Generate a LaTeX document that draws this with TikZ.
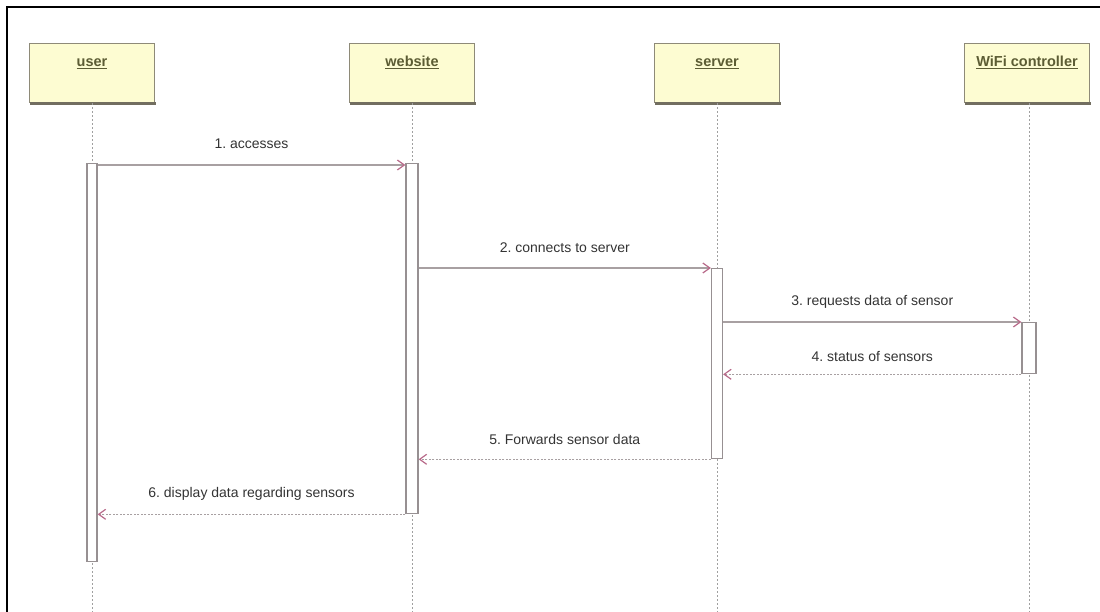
\documentclass[tikz,border=0pt]{standalone}
\usepackage{fontspec}
\setmainfont{Liberation Sans}
\usetikzlibrary{arrows.meta}
\definecolor{boxfill}{HTML}{FDFCD2}
\definecolor{boxline}{HTML}{8E8A78}
\definecolor{hdrtext}{HTML}{5C5C34}
\definecolor{msgline}{HTML}{A8A0A2}
\definecolor{tipcol}{HTML}{B86A8A}
\definecolor{txt}{HTML}{333333}
\definecolor{life}{HTML}{A0A0A0}
\tikzset{
  actor/.style={draw=boxline, line width=1.4pt, fill=boxfill, minimum width=125pt, minimum height=59pt,
    inner sep=0pt, anchor=north, text=hdrtext, font=\bfseries\fontsize{14.5}{16}\selectfont,
    text height=10pt, text depth=24pt},
  shadowline/.style={draw=boxline!80!black, line width=2.6pt},
  bar/.style={draw=msgline!90!black, line width=1.3pt, fill=white, inner sep=0pt, anchor=north},
  lifeline/.style={draw=life, line width=1pt, dash pattern=on 2pt off 2pt},
  call/.style={draw=msgline, line width=1.8pt, -{Straight Barb[length=7pt,width=10pt,line width=1.2pt,color=tipcol]}},
  reply/.style={draw=msgline, line width=1.5pt, dash pattern=on 2pt off 1.5pt, -{Straight Barb[length=7pt,width=10pt,line width=1.2pt,color=tipcol]}},
  lbl/.style={text=txt, font=\fontsize{14}{16}\selectfont, inner sep=0pt}
}
\frenchspacing
\begin{document}
\begin{tikzpicture}[x=1pt,y=-1pt]
\useasboundingbox (0,0) rectangle (1100,612);
% frame
\draw[black, line width=1.8pt] (7,612) -- (7,7) -- (1100,7);

% lifeline ends
\coordinate (uend) at (92,612);
\coordinate (wend) at (412,612);
\coordinate (send) at (717,612);
\coordinate (cend) at (1029,612);

% actor boxes
\node[actor] (user) at (92,43) {\underline{user}};
\node[actor] (web) at (412,43) {\underline{website}};
\node[actor] (srv) at (717,43) {\underline{server}};
\node[actor] (ctl) at (1027,43) {\underline{WiFi controller}};
\foreach \n in {user,web,srv,ctl}{
  \draw[shadowline] ([xshift=1pt]\n.south west) -- ([xshift=1pt]\n.south east);
}

\draw[lifeline] (user.south) -- (uend);
\draw[lifeline] (web.south) -- (wend);
\draw[lifeline] (srv.south) -- (send);
\draw[lifeline] ([xshift=2pt]ctl.south) -- (cend);

% activation bars
\node[bar, minimum width=10pt, minimum height=398pt] (ua) at (92,163) {};
\node[bar, minimum width=12pt, minimum height=350pt] (wa) at (412,163) {};
\node[bar, minimum width=11pt, minimum height=190pt] (sa) at (717,268) {};
\node[bar, minimum width=14pt, minimum height=51pt] (ca) at (1029,322) {};

% messages
\draw[call] ([yshift=-2pt]ua.north east) -- ([yshift=-2pt]wa.north west)
  node[lbl, midway, above=15pt] (m1) {1. accesses};
\draw[call] (wa.east |- sa.north) -- (sa.north west)
  node[lbl, midway, above=14pt] (m2) {2. connects to server};
\draw[call] (sa.east |- ca.north) -- (ca.north west)
  node[lbl, midway, above=13pt] (m3) {3. requests data of sensor};
\draw[reply] (ca.south west) -- (sa.east |- ca.south)
  node[lbl, midway, above=12pt] (m4) {4. status of sensors};
\draw[reply] (sa.south west) -- (wa.east |- sa.south)
  node[lbl, midway, above=14pt] (m5) {5. Forwards sensor data};
\draw[reply] (wa.south west) -- (ua.east |- wa.south)
  node[lbl, midway, above=13pt] (m6) {6. display data regarding sensors};
\end{tikzpicture}
\end{document}
